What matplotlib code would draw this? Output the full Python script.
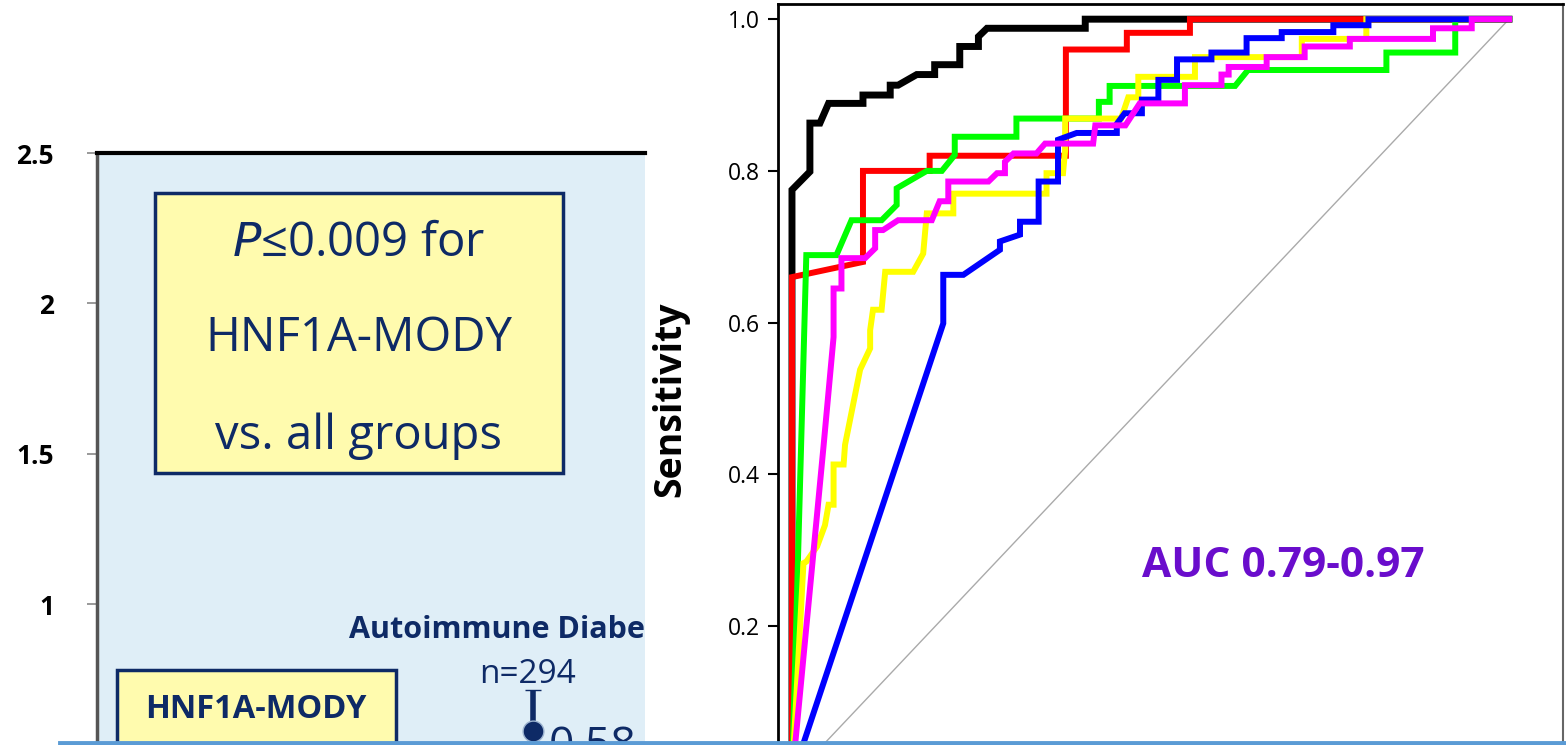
import matplotlib
matplotlib.use('Agg')
from matplotlib import pyplot as plt
from matplotlib.patches import Rectangle
from matplotlib.lines import Line2D

plt.rcParams['font.family'] = ['Open Sans', 'DejaVu Sans']

# Left panel: group mean with upper error bar
groups = ['HNF1A-MODY', 'Autoimmune Diabetes']
group_n = [22, 294]
auto_mean = 0.58
auto_upper = 0.714
left_ticks = [1, 1.5, 2, 2.5]
left_ticklabels = ['1', '1.5', '2', '2.5']

# Right panel: ROC curves (1 - specificity, sensitivity)
black_fpr = [0, 0, 0.025, 0.025, 0.039, 0.051, 0.099, 0.099, 0.137, 0.137, 0.148, 0.174,
             0.199, 0.199, 0.234, 0.234, 0.260, 0.260, 0.272, 0.409, 0.409, 1.0]
black_sens = [0, 0.775, 0.799, 0.863, 0.863, 0.889, 0.889, 0.900, 0.900, 0.913, 0.913, 0.927,
              0.927, 0.940, 0.940, 0.964, 0.964, 0.977, 0.988, 0.988, 1.0, 1.0]

red_fpr = [0, 0, 0.099, 0.099, 0.192, 0.192, 0.382, 0.382, 0.467, 0.467, 0.555, 0.555, 1.0]
red_sens = [0, 0.660, 0.680, 0.800, 0.800, 0.820, 0.820, 0.960, 0.960, 0.982, 0.982, 1.0, 1.0]

green_fpr = [0, 0.020, 0.062, 0.083, 0.125, 0.146, 0.146, 0.188, 0.209, 0.227, 0.227, 0.313,
             0.313, 0.428, 0.428, 0.443, 0.443, 0.618, 0.636, 0.829, 0.829, 0.925, 0.925, 1.0]
green_sens = [0, 0.689, 0.689, 0.735, 0.735, 0.755, 0.777, 0.800, 0.800, 0.821, 0.845, 0.845,
              0.869, 0.869, 0.891, 0.891, 0.912, 0.912, 0.933, 0.933, 0.956, 0.956, 1.0, 1.0]

yellow_fpr = [0, 0.016, 0.020, 0.035, 0.046, 0.051, 0.058, 0.058, 0.072, 0.074,
              0.095, 0.109, 0.109, 0.113, 0.125, 0.130, 0.169, 0.183, 0.188, 0.225,
              0.225, 0.355, 0.355, 0.378, 0.381, 0.381, 0.459, 0.469, 0.483, 0.483,
              0.562, 0.562, 0.711, 0.711, 0.801, 0.801, 1.0]
yellow_sens = [0, 0.283, 0.285, 0.305, 0.333, 0.360, 0.360, 0.413, 0.413, 0.439,
               0.538, 0.566, 0.590, 0.617, 0.617, 0.667, 0.667, 0.691, 0.744, 0.744,
               0.770, 0.770, 0.797, 0.797, 0.828, 0.869, 0.869, 0.897, 0.897, 0.924,
               0.924, 0.950, 0.950, 0.974, 0.974, 1.0, 1.0]

blue_fpr = [0, 0.211, 0.211, 0.239, 0.290, 0.290, 0.318, 0.318, 0.344, 0.344,
            0.371, 0.371, 0.397, 0.453, 0.453, 0.464, 0.488, 0.488, 0.511, 0.511,
            0.537, 0.537, 0.585, 0.585, 0.634, 0.634, 0.683, 0.683, 0.755, 0.755,
            0.804, 0.804, 1.0]
blue_sens = [0, 0.599, 0.663, 0.663, 0.696, 0.707, 0.716, 0.733, 0.733, 0.786,
             0.786, 0.841, 0.850, 0.850, 0.862, 0.876, 0.876, 0.894, 0.894, 0.920,
             0.920, 0.947, 0.947, 0.956, 0.956, 0.975, 0.975, 0.983, 0.983, 0.992,
             0.992, 1.0, 1.0]

magenta_fpr = [0, 0.044, 0.058, 0.058, 0.069, 0.069, 0.102, 0.116, 0.116, 0.127,
               0.148, 0.195, 0.206, 0.218, 0.218, 0.274, 0.286, 0.297, 0.297, 0.309,
               0.341, 0.353, 0.420, 0.423, 0.465, 0.485, 0.548, 0.548, 0.599, 0.599,
               0.609, 0.609, 0.662, 0.662, 0.715, 0.715, 0.778, 0.778, 0.894, 0.894,
               0.948, 0.948, 1.0]
magenta_sens = [0, 0.437, 0.581, 0.645, 0.645, 0.685, 0.685, 0.698, 0.722, 0.722,
                0.735, 0.735, 0.760, 0.760, 0.786, 0.786, 0.797, 0.797, 0.812, 0.823,
                0.823, 0.836, 0.836, 0.860, 0.860, 0.889, 0.889, 0.913, 0.913, 0.927,
                0.927, 0.937, 0.937, 0.950, 0.950, 0.964, 0.964, 0.974, 0.974, 0.988,
                0.988, 1.0, 1.0]

roc_ticks = [0.2, 0.4, 0.6, 0.8, 1.0]
auc_text = 'AUC 0.79-0.97'

navy = '#0E2A66'
W, H = 1566, 745
fig = plt.figure(figsize=(W / 100, H / 100), dpi=100)

# ---- left panel ----
ax1 = fig.add_axes([97 / W, 1 - 905 / H, (645 - 97) / W, (905 - 153) / H])
ax1.set_facecolor('#DFEEF7')
ax1.set_xlim(0, 1)
ax1.set_ylim(0, 2.5)
for s in ['right', 'bottom']:
    ax1.spines[s].set_visible(False)
ax1.spines['top'].set_linewidth(3)
ax1.spines['left'].set_color('#555555')
ax1.spines['left'].set_linewidth(2.5)
ax1.set_xticks([])
ax1.set_yticks(left_ticks)
ax1.set_yticklabels(left_ticklabels, fontsize=19, fontweight='bold')
ax1.tick_params(axis='y', length=7, width=1.2, color='#888888', pad=24)

ax1.add_patch(Rectangle((0.106, 1.436), 0.744, 0.931, facecolor='#FFFBAE',
                        edgecolor=navy, lw=2.5, zorder=2))
ax1.text(0.478, 2.20, r'$\mathit{P}$' + '≤0.009 for', ha='center', va='center',
         fontsize=34, color=navy, zorder=3)
ax1.text(0.478, 1.885, 'HNF1A-MODY', ha='center', va='center', fontsize=34, color=navy, zorder=3)
ax1.text(0.478, 1.56, 'vs. all groups', ha='center', va='center', fontsize=34, color=navy, zorder=3)

ax1.add_patch(Rectangle((0.0365, 0.2), 0.509, 0.581, facecolor='#FFFBAE',
                        edgecolor=navy, lw=2.5, zorder=2))
ax1.text(0.29, 0.650, groups[0], ha='center', va='center', fontsize=23.5,
         fontweight='bold', color=navy, zorder=3)
ax1.text(0.29, 0.49, 'n=%d' % group_n[0], ha='center', va='center', fontsize=23.5,
         fontweight='bold', color=navy, zorder=3)

px = 0.796
ax1.text(0.46, 0.915, groups[1], ha='left', va='center', fontsize=22,
         fontweight='bold', color=navy, clip_on=True, zorder=3)
ax1.text(px - 0.01, 0.765, 'n=%d' % group_n[1], ha='center', va='center', fontsize=24,
         color=navy, zorder=3)
ax1.errorbar([px], [auto_mean], yerr=[[0], [auto_upper - auto_mean]], fmt='o',
             color=navy, ms=15, mec='#9DB4D0', mew=1, elinewidth=4, capsize=6,
             capthick=5, zorder=4)
ax1.text(0.825, 0.60, '%.2f' % auto_mean, ha='left', va='top', fontsize=32,
         color=navy, clip_on=True, zorder=3)

# ---- right panel: ROC ----
ax2 = fig.add_axes([778 / W, 1 - 793 / H, (1563 - 778) / W, (793 - 4) / H])
ax2.set_xlim(-0.0195, 1.0753)
ax2.set_ylim(-0.02, 1.02)
ax2.plot([0, 1], [0, 1], color='#AAAAAA', lw=1, zorder=1)
curves = [(black_fpr, black_sens, 'black', 5),
          (red_fpr, red_sens, '#FF0000', 4.3),
          (green_fpr, green_sens, '#00FF00', 4.3),
          (yellow_fpr, yellow_sens, '#FFFF00', 4.3),
          (blue_fpr, blue_sens, '#0000FF', 4.3),
          (magenta_fpr, magenta_sens, '#FF00FF', 4.3)]
for fx, sy, c, lw in curves:
    ax2.plot(fx, sy, color=c, lw=lw, solid_joinstyle='miter', zorder=2)

ax2.set_xticks([])
ax2.set_yticks(roc_ticks)
ax2.set_yticklabels(['%.1f' % t for t in roc_ticks], fontsize=16.5)
ax2.tick_params(axis='y', length=7, width=1.5, pad=6)
for s in ['left', 'top']:
    ax2.spines[s].set_linewidth(2)
ax2.spines['right'].set_linewidth(1.5)
ax2.spines['right'].set_color('#666666')
ax2.spines['bottom'].set_visible(False)

fig.text(670 / W, 1 - 399 / H, 'Sensitivity', rotation=90, ha='center', va='center',
         fontsize=27, fontweight='bold')
ax2.text(0.685, 0.278, auc_text, ha='center', va='center', fontsize=30.5,
         fontweight='bold', color='#6A0DCC')

# bottom blue rule
fig.add_artist(Line2D([60 / W, 1], [1 - 743 / H, 1 - 743 / H], color='#5B9BD5', lw=3.5))

fig.savefig('out.png', dpi=100)
